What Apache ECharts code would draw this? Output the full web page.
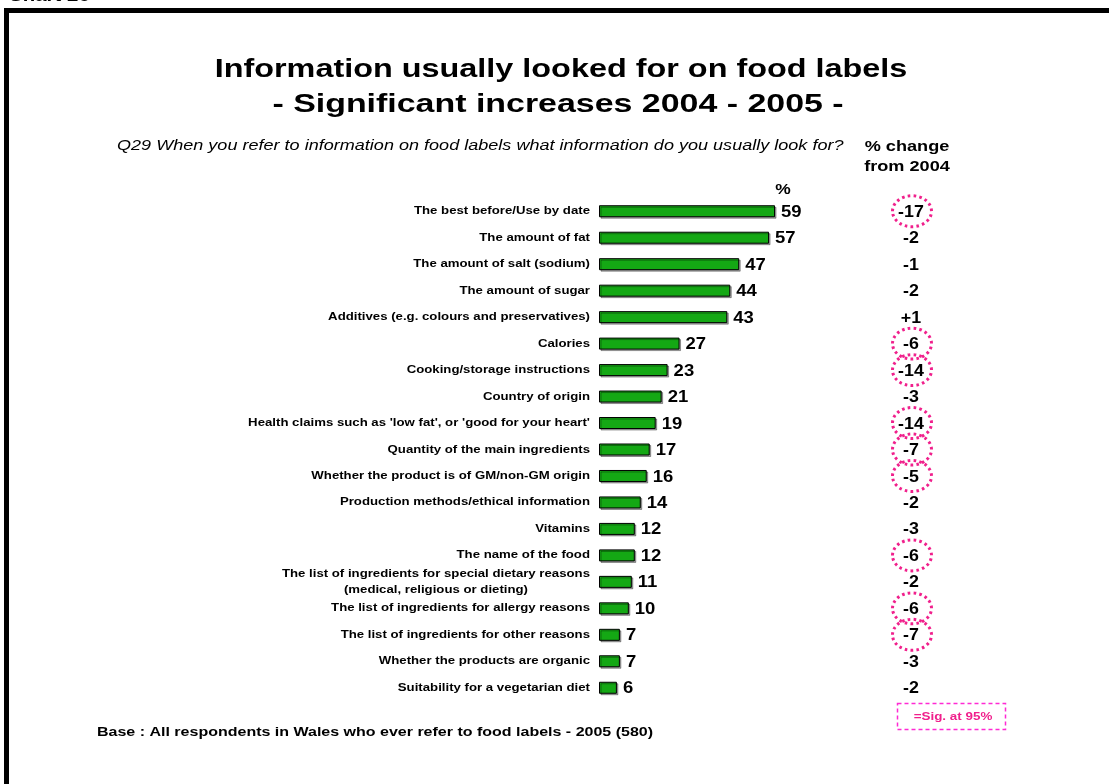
<!DOCTYPE html>
<html>
<head>
<meta charset="utf-8">
<script src="https://cdn.jsdelivr.net/npm/echarts@6/dist/echarts.min.js"></script>
<style>
  html, body { margin: 0; padding: 0; background: #ffffff; }
  #chart { width: 1109px; height: 784px; }
</style>
</head>
<body>
<div id="chart"></div>
<script>
// Items respondents usually look for on food labels (Wales, 2005)
const categories = [
  "The best before/Use by date",
  "The amount of fat",
  "The amount of salt (sodium)",
  "The amount of sugar",
  "Additives (e.g. colours and preservatives)",
  "Calories",
  "Cooking/storage instructions",
  "Country of origin",
  "Health claims such as 'low fat', or 'good for your heart'",
  "Quantity of the main ingredients",
  "Whether the product is of GM/non-GM origin",
  "Production methods/ethical information",
  "Vitamins",
  "The name of the food",
  "The list of ingredients for special dietary reasons\n(medical, religious or dieting)",
  "The list of ingredients for allergy reasons",
  "The list of ingredients for other reasons",
  "Whether the products are organic",
  "Suitability for a vegetarian diet"
];
// % of respondents, 2005
const percent2005 = [59, 57, 47, 44, 43, 27, 23, 21, 19, 17, 16, 14, 12, 12, 11, 10, 7, 7, 6];
// % point change from 2004
const changeFrom2004 = [-17, -2, -1, -2, 1, -6, -14, -3, -14, -7, -5, -2, -3, -6, -2, -6, -7, -3, -2];
// 1 = change significant at 95%
const significant = [1, 0, 0, 0, 0, 1, 1, 0, 1, 1, 1, 0, 0, 1, 0, 1, 1, 0, 0];

const FONT = '"Liberation Sans", Arial, Helvetica, sans-serif';
const PINK = '#f0208c';
const GREEN = '#14a814';

// The typeface is drawn slightly widened, as in the printed report
const WIDE = 1.2;

function wideText(x, y, text, opts) {
  return {
    type: 'text',
    x: x,
    y: y,
    scaleX: opts.scaleX || WIDE,
    silent: true,
    style: Object.assign({
      text: text,
      fontFamily: FONT,
      fontWeight: 'bold',
      fill: '#000',
      verticalAlign: 'middle'
    }, opts.style)
  };
}

// Category names and value labels, placed through the bar grid's axes
function renderBarLabels(params, api) {
  const i = params.dataIndex;
  const v = percent2005[i];
  const base = api.coord([0, i]);
  const end = api.coord([v, i]);
  const name = categories[i];
  const children = [];
  children.push(wideText(base[0] - 9, base[1], name, {
    scaleX: 1.2,
    style: {
      fontSize: 11,
      lineHeight: 16,
      align: name.indexOf('\n') >= 0 ? 'center' : 'right'
    }
  }));
  if (name.indexOf('\n') >= 0) {
    // two-line name: lines centred on each other, block ending at the axis margin
    const ctx = document.createElement('canvas').getContext('2d');
    ctx.font = 'bold 11px ' + FONT;
    const w = Math.max.apply(null, name.split('\n').map(function (l) { return ctx.measureText(l).width; })) * 1.2;
    children[0].x = base[0] - 9 - w / 2;
  }
  children.push(wideText(end[0] + 6, end[1] + 1, String(v), {
    scaleX: 1.12,
    style: { fontSize: 16.5, align: 'left' }
  }));
  return { type: 'group', children: children };
}

// Change column: value, ringed when significant
function renderChange(params, api) {
  const i = params.dataIndex;
  const c = api.coord([0.5, i]);
  const v = changeFrom2004[i];
  const children = [];
  if (significant[i]) {
    children.push({
      type: 'ellipse',
      silent: true,
      shape: { cx: c[0] + 1, cy: c[1], rx: 19.5, ry: 15.5 },
      style: { fill: 'none', stroke: PINK, lineWidth: 3, lineDash: [2.6, 3.2] }
    });
  }
  children.push(wideText(c[0], c[1] + 1, (v > 0 ? '+' : '') + v, {
    scaleX: 1.08,
    style: { fontSize: 16.5, align: 'center' }
  }));
  return { type: 'group', children: children };
}

const chart = echarts.init(document.getElementById('chart'), null, { renderer: 'canvas' });

const option = {
  backgroundColor: '#ffffff',
  animation: false,
  grid: [
    { left: 599, top: 198, width: 179, height: 503 },
    { left: 880, top: 198, width: 62, height: 503 }
  ],
  xAxis: [
    { gridIndex: 0, type: 'value', min: 0, max: 60, show: false },
    { gridIndex: 1, type: 'value', min: 0, max: 1, show: false }
  ],
  yAxis: [
    { gridIndex: 0, type: 'category', data: categories, inverse: true, show: false },
    { gridIndex: 1, type: 'category', data: categories, inverse: true, show: false }
  ],
  series: [
    {
      type: 'bar',
      xAxisIndex: 0,
      yAxisIndex: 0,
      data: percent2005,
      barWidth: 12,
      itemStyle: {
        color: GREEN,
        borderColor: '#000',
        borderWidth: 1,
        shadowColor: 'rgba(0,0,0,0.35)',
        shadowOffsetX: 1.5,
        shadowOffsetY: 1.5,
        shadowBlur: 0
      },
      emphasis: { disabled: true }
    },
    {
      type: 'custom',
      xAxisIndex: 0,
      yAxisIndex: 0,
      data: percent2005.map(function (v, i) { return [v, i]; }),
      encode: { x: 0, y: 1 },
      renderItem: renderBarLabels,
      clip: false,
      silent: true
    },
    {
      type: 'custom',
      xAxisIndex: 1,
      yAxisIndex: 1,
      data: changeFrom2004.map(function (v, i) { return [0.5, i]; }),
      encode: { x: 0, y: 1 },
      renderItem: renderChange,
      clip: false,
      silent: true
    }
  ],
  graphic: [
    // frame lines
    { type: 'rect', shape: { x: 4, y: 8, width: 1105, height: 5 }, style: { fill: '#000' } },
    { type: 'rect', shape: { x: 4, y: 8, width: 5, height: 776 }, style: { fill: '#000' } },
    // chart number, above the frame
    wideText(8, 5, 'Chart 26', { style: { fontSize: 17, verticalAlign: 'bottom' } }),
    // title
    wideText(561, 70, 'Information usually looked for on food labels', {
      scaleX: 1.27, style: { fontSize: 25.5, align: 'center' }
    }),
    wideText(558, 105, '- Significant increases 2004 - 2005 -', {
      scaleX: 1.33, style: { fontSize: 25.5, align: 'center' }
    }),
    // question wording
    wideText(117, 146, 'Q29 When you refer to information on food labels what information do you usually look for?', {
      scaleX: 1.245, style: { fontSize: 14.5, fontWeight: 'normal', fontStyle: 'italic' }
    }),
    // change column header
    wideText(907, 157, '% change\nfrom 2004', {
      scaleX: 1.25, style: { fontSize: 14.5, lineHeight: 20, align: 'center' }
    }),
    // unit above bars
    wideText(783, 190, '%', { scaleX: 1.2, style: { fontSize: 14.5, align: 'center' } }),
    // significance key
    {
      type: 'rect', shape: { x: 897.5, y: 703.5, width: 108, height: 26 },
      style: { fill: 'none', stroke: '#ff2ad4', lineWidth: 1.5, lineDash: [4, 3] }
    },
    wideText(953, 717, '=Sig. at 95%', { scaleX: 1.22, style: { fontSize: 11, fill: PINK, align: 'center' } }),
    // base note
    wideText(97, 733, 'Base : All respondents in Wales who ever refer to food labels - 2005 (580)', {
      scaleX: 1.28, style: { fontSize: 12.5 }
    })
  ]
};

chart.setOption(option);
</script>
</body>
</html>
